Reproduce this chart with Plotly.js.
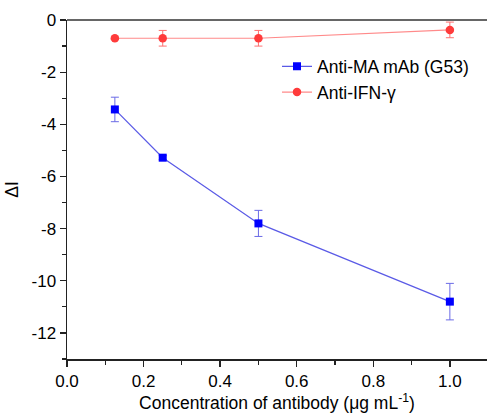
<!DOCTYPE html>
<html><head><meta charset="utf-8">
<script src="https://cdn.plot.ly/plotly-3.0.1.min.js"></script>
<style>html,body{margin:0;padding:0;background:#fff}#c{width:487px;height:413px}</style>
</head><body><div id="c"></div>
<script>
const conc = [0.125, 0.25, 0.5, 1.0];
const g53 = [-3.43, -5.28, -7.80, -10.80];
const g53Err = [0.47, 0.08, 0.50, 0.70];
const ifn = [-0.70, -0.70, -0.70, -0.38];
const ifnErr = [0.05, 0.30, 0.30, 0.30];
const xTickVals = [0, 0.2, 0.4, 0.6, 0.8, 1.0];
const xTickText = ['0.0', '0.2', '0.4', '0.6', '0.8', '1.0'];
const yTickVals = [0, -2, -4, -6, -8, -10, -12];
const yTickText = ['0', '-2', '-4', '-6', '-8', '-10', '-12'];

const traces = [
  {x: conc, y: g53, name: 'Anti-MA mAb (G53)', mode: 'lines+markers', type: 'scatter',
   line: {color: '#5a5ae6', width: 1.2},
   marker: {symbol: 'square', size: 8, color: '#0000ff'},
   error_y: {type: 'data', array: g53Err, visible: true, color: '#6a6ae6', thickness: 1, width: 4}},
  {x: conc, y: ifn, name: 'Anti-IFN-γ', mode: 'lines+markers', type: 'scatter',
   line: {color: '#ff8a8a', width: 1.2},
   marker: {symbol: 'circle', size: 8.5, color: '#ff3b3b'},
   error_y: {type: 'data', array: ifnErr, visible: true, color: '#ff7070', thickness: 1, width: 4}}
];

const layout = {
  width: 487, height: 413,
  margin: {l: 67, r: 0, t: 20, b: 54},
  paper_bgcolor: '#fff', plot_bgcolor: '#fff',
  font: {family: 'Liberation Sans, Arial, sans-serif', size: 17, color: '#000'},
  showlegend: true,
  legend: {x: 0.5, y: 0.916, xanchor: 'left', yanchor: 'top', bgcolor: 'rgba(0,0,0,0)',
           font: {size: 17.5}, tracegroupgap: 0},
  xaxis: {range: [0, 1.097], showgrid: false, zeroline: false, showline: true,
          linecolor: '#222', linewidth: 1.5, ticks: 'outside', ticklen: 6, tickwidth: 1.3, tickcolor: '#222',
          tickvals: xTickVals, ticktext: xTickText,
          minor: {dtick: 0.1, ticks: 'outside', ticklen: 4, tickwidth: 1.2, tickcolor: '#222'},
          title: {text: 'Concentration of antibody (μg mL<sup>-1</sup>)', font: {size: 17.5}, standoff: 7}},
  yaxis: {range: [-13, 0], showgrid: false, zeroline: false, showline: true,
          linecolor: '#222', linewidth: 1.5, ticks: 'outside', ticklen: 6, tickwidth: 1.3, tickcolor: '#222',
          tickvals: yTickVals, ticktext: yTickText,
          minor: {dtick: 1, ticks: 'outside', ticklen: 4, tickwidth: 1.2, tickcolor: '#222'},
          title: {text: 'ΔI', font: {size: 17.5}, standoff: 8}},
  shapes: [{type: 'line', xref: 'paper', yref: 'paper', x0: 0, x1: 1, y0: 1, y1: 1,
            line: {color: '#666', width: 2}}]
};
Plotly.newPlot('c', traces, layout, {displayModeBar: false, staticPlot: true});
</script></body></html>
